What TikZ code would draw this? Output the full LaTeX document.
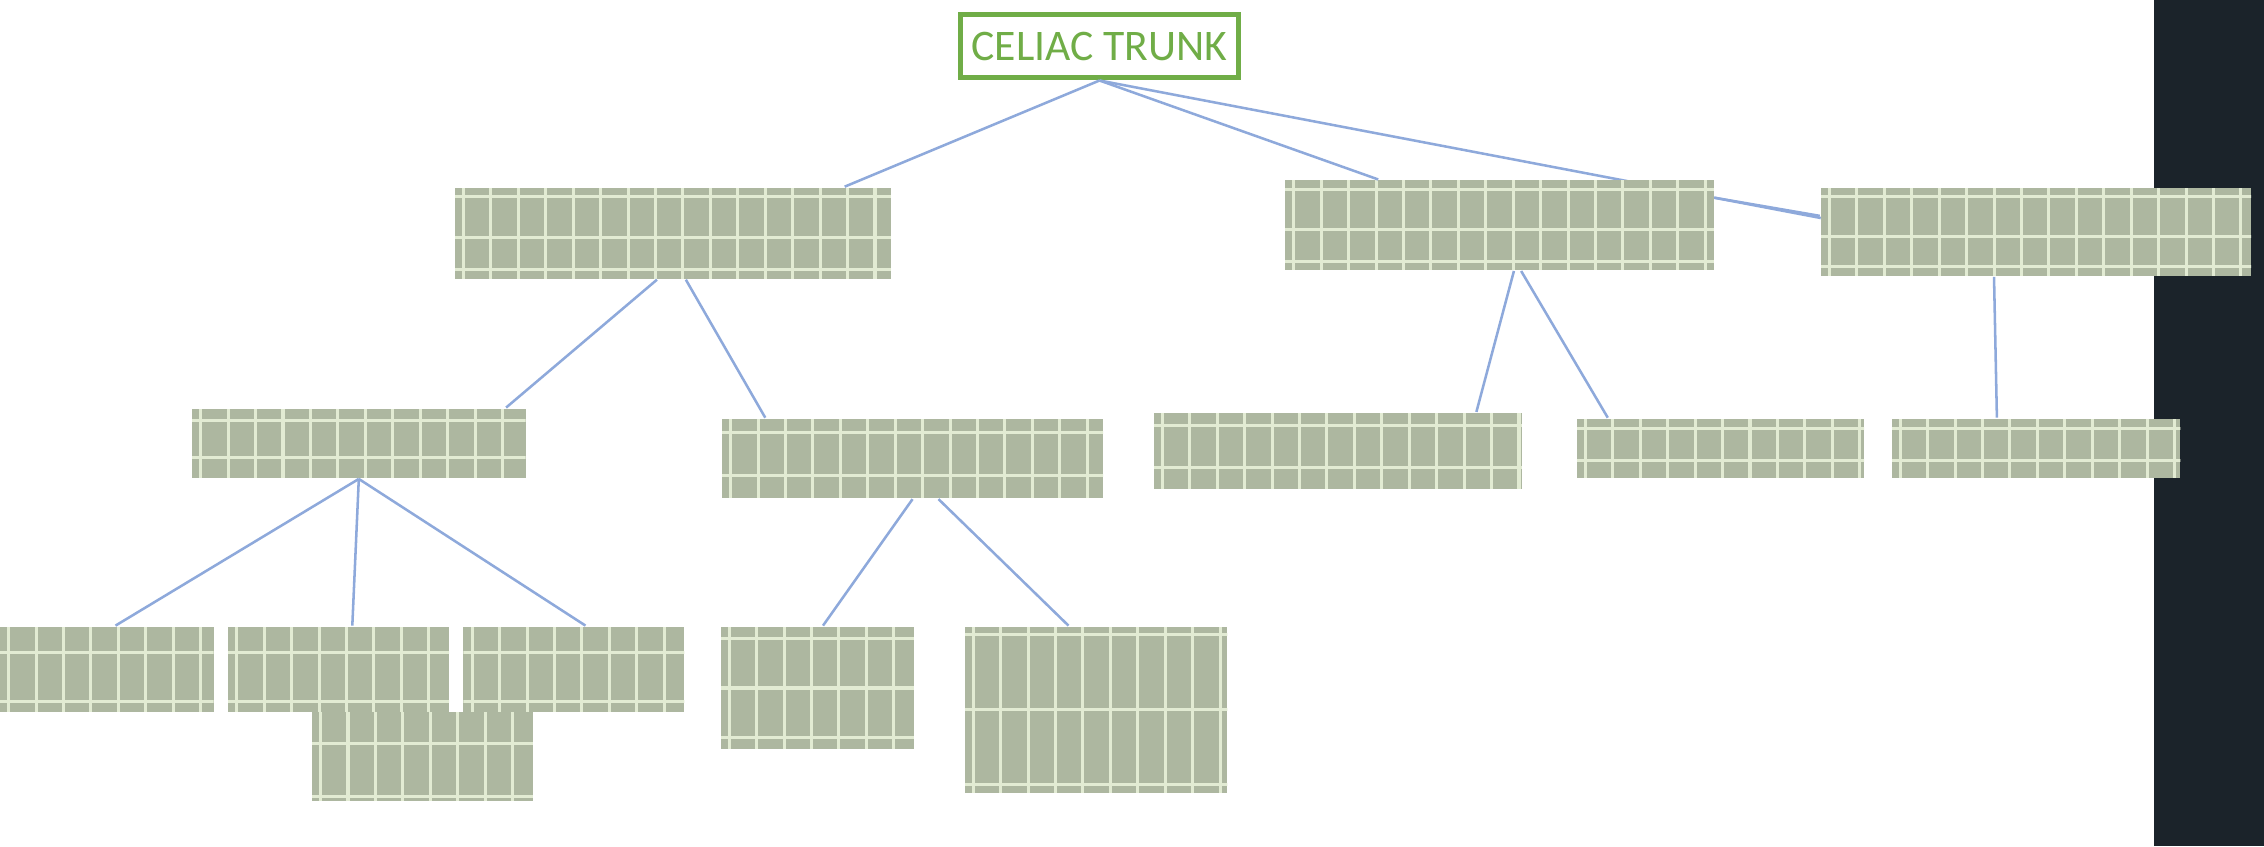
\documentclass[tikz,border=0pt]{standalone}
\usepackage{fontspec}
\setmainfont{Carlito}
\usetikzlibrary{calc}
\definecolor{trunkgreen}{HTML}{70AD47}
\definecolor{tapefill}{HTML}{ADB7A0}
\definecolor{tapeline}{HTML}{E2EBD3}
\definecolor{branchblue}{HTML}{8EA9DB}
\definecolor{panel}{HTML}{1B232A}
\tikzset{
	tape/.style={fill=tapefill, inner sep=0pt, path picture={
		\coordinate (sw) at (path picture bounding box.south west);
		\coordinate (ne) at (path picture bounding box.north east);
		\foreach \i in {0,...,32}
			\draw[tapeline, line width=0.6pt] ([xshift=\i*0.19cm+0.06cm]sw) -- ([xshift=\i*0.19cm+0.06cm]sw |- ne);
		\foreach \f in {#1}
			\draw[tapeline, line width=0.6pt] ($(sw)!\f!(sw |- ne)$) -- ++(20,0);
	}},
	tape/.default={0.29,0.83},
	branch/.style={branchblue, line width=0.5pt}
}
\begin{document}
\begin{tikzpicture}
	\useasboundingbox (0,0) rectangle (15.68,5.86);
	\fill[panel] (14.92,0) rectangle (15.68,5.86);

	\node[draw=trunkgreen, line width=1pt, text=trunkgreen, font=\fontsize{8.6}{10}\selectfont, minimum width=1.93cm, minimum height=0.44cm, inner sep=1pt] (trunk) at (7.615,5.54) {CELIAC TRUNK};
	\coordinate (farend) at (12.61,4.35);
	\draw[branch] (trunk.south) -- (farend);

	% second row
	\node[tape={0.1,0.45,0.9}, minimum width=3.02cm, minimum height=0.63cm] (left) at (4.66,4.245) {};
	\node[tape={0.1,0.45,0.9}, minimum width=2.97cm, minimum height=0.62cm] (middle) at (10.385,4.30) {};
	\node[tape={0.1,0.45,0.9}, minimum width=2.98cm, minimum height=0.61cm] (right) at (14.10,4.255) {};

	% third row
	\node[tape, minimum width=2.31cm, minimum height=0.48cm] (leftA) at (2.485,2.79) {};
	\node[tape, minimum width=2.64cm, minimum height=0.55cm] (leftB) at (6.32,2.685) {};
	\node[tape, minimum width=2.55cm, minimum height=0.53cm] (midA) at (9.265,2.735) {};
	\node[tape, minimum width=1.99cm, minimum height=0.41cm] (midB) at (11.915,2.755) {};
	\node[tape, minimum width=2.00cm, minimum height=0.41cm] (rightA) at (14.10,2.755) {};

	% fourth row
	\node[tape={0.12,0.7}, minimum width=1.48cm, minimum height=0.59cm] (leafA) at (0.74,1.225) {};
	\node[tape={0.12,0.7}, minimum width=1.53cm, minimum height=0.59cm] (leafB) at (2.345,1.225) {};
	\node[tape={0.12,0.7}, minimum width=1.53cm, minimum height=0.59cm] (leafC) at (3.975,1.225) {};
	\node[tape={0.05,0.65}, minimum width=1.53cm, minimum height=0.62cm] (leafD) at (2.925,0.62) {};
	\node[tape={0.1,0.5,0.9}, minimum width=1.34cm, minimum height=0.85cm] (leafE) at (5.66,1.095) {};
	\node[tape={0.05,0.5,0.95}, minimum width=1.82cm, minimum height=1.15cm] (leafF) at (7.59,0.945) {};

	% connectors
	\draw[branch] (trunk.south) -- ([xshift=1.19cm]left.north);
	\draw[branch] (trunk.south) -- ([xshift=-0.84cm]middle.north);
	\draw[branch] ([yshift=0.19cm]middle.east) -- ([yshift=0.11cm]right.west);
	\draw[branch] ([xshift=-0.11cm]left.south) -- ([xshift=1.02cm]leftA.north);
	\draw[branch] ([xshift=0.09cm]left.south) -- ([xshift=-1.02cm]leftB.north);
	\draw[branch] ([xshift=0.1cm]middle.south) -- ([xshift=0.96cm]midA.north);
	\draw[branch] ([xshift=0.15cm]middle.south) -- ([xshift=-0.78cm]midB.north);
	\draw[branch] ([xshift=-0.29cm]right.south) -- ([xshift=-0.27cm]rightA.north);
	\draw[branch] (leftA.south) -- ([xshift=0.06cm]leafA.north);
	\draw[branch] (leftA.south) -- ([xshift=0.095cm]leafB.north);
	\draw[branch] (leftA.south) -- ([xshift=0.08cm]leafC.north);
	\draw[branch] (leftB.south) -- ([xshift=0.04cm]leafE.north);
	\draw[branch] ([xshift=0.18cm]leftB.south) -- ([xshift=-0.19cm]leafF.north);
\end{tikzpicture}
\end{document}
